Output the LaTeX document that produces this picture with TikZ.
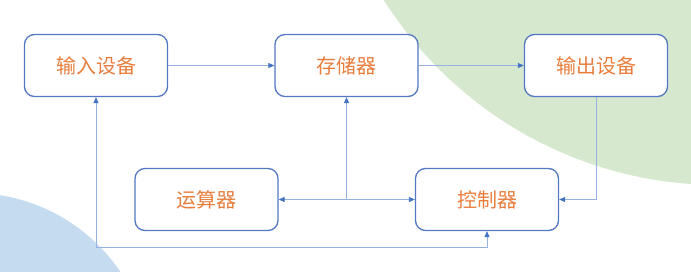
\documentclass[tikz,border=0pt]{standalone}
\usepackage{fontspec}
\newfontfamily\cjk{Noto Sans CJK SC}
\usetikzlibrary{arrows.meta}
\definecolor{bggreen}{RGB}{214,232,206}
\definecolor{bgblue}{RGB}{197,220,240}
\definecolor{boxline}{RGB}{84,120,196}
\definecolor{txt}{RGB}{232,125,60}
\definecolor{conn}{RGB}{150,178,224}
\definecolor{tipc}{RGB}{68,114,196}
\begin{document}
\begin{tikzpicture}[x=1pt,y=-1pt,
  unit/.style={draw=boxline, line width=1.3pt, rounded corners=10pt, fill=white,
    minimum width=143pt, minimum height=62pt, inner sep=0pt,
    font=\cjk\fontsize{20}{20}\selectfont, text=txt},
  link/.style={draw=conn, line width=0.8pt, -{Triangle[length=6pt,width=5pt,color=tipc]}},
  tw/.style={draw=conn, line width=0.8pt, {Triangle[length=6pt,width=5pt,color=tipc]}-{Triangle[length=6pt,width=5pt,color=tipc]}}]
\useasboundingbox (0,0) rectangle (691,271);
\fill[white] (0,0) rectangle (691,271);
\begin{scope}
  \clip (0,0) rectangle (691,271);
  \fill[bggreen] (719,-211) circle (396);
  \fill[bgblue] (-28,372) circle (179);
\end{scope}
\node[unit] (in)  at (96,65.5)    {输入设备};
\node[unit] (mem) at (346.5,65.5) {存储器};
\node[unit] (out) at (596,65.5)   {输出设备};
\node[unit] (alu) at (206.5,199.5) {运算器};
\node[unit] (ctl) at (487,199.5)  {控制器};
\coordinate (j) at (mem.south |- alu.east);
\coordinate (b) at (in.south |- 0,247);
\draw[link] (in) -- (mem);
\draw[link] (mem) -- (out);
\draw[link] (j) -- (mem);
\draw[link] (j) -- (alu);
\draw[link] (j) -- (ctl);
\draw[link] (out.south) |- (ctl.east);
\draw[tw] (ctl.south) |- (b) -- (in.south);
\end{tikzpicture}
\end{document}
